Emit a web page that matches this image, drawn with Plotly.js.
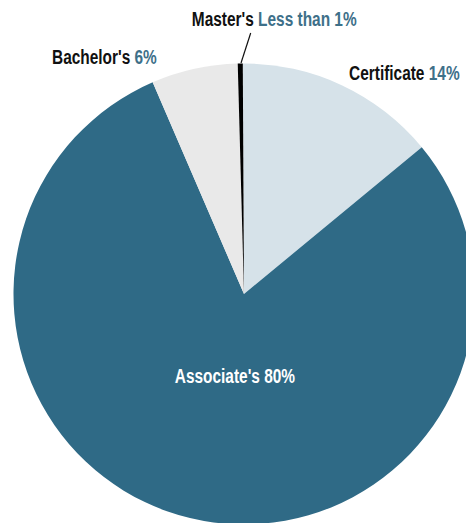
<!DOCTYPE html>
<html>
<head>
<meta charset="utf-8">
<script src="https://cdn.plot.ly/plotly-3.0.1.min.js"></script>
<style>
html, body { margin: 0; padding: 0; overflow: hidden; background: #fff; width: 466px; height: 523px; }
#chart { position: absolute; left: 0; top: 0; width: 488px; height: 588px; }
</style>
</head>
<body>
<div id="chart"></div>
<script>
// Data
var categories = ["Certificate", "Associate's", "Bachelor's", "Master's"];
var shares = [14.1, 79.5, 6.05, 0.35];
var shareLabels = ["14%", "80%", "6%", "Less than 1%"];
var sliceColors = ["#d6e2e9", "#2f6a86", "#e9e9e9", "#000000"];

var W = 488, H = 588;
var cx = 244, cy = 294, R = 230.5;
function px(x) { return x / W; }
function py(y) { return 1 - y / H; }

var FONT = '"Liberation Sans", Arial, sans-serif';
var BLUE = "#3e7089";
var NARROW = 0.735;

function lbl(i, dark) {
  var nameColor = dark ? "#ffffff" : "#111111";
  var valColor = dark ? "#ffffff" : BLUE;
  return '<span style="color:' + nameColor + '">' + categories[i] + '</span> ' +
         '<span style="color:' + valColor + '">' + shareLabels[i] + '</span>';
}

var trace = {
  type: "pie",
  labels: categories,
  values: shares,
  sort: false,
  direction: "clockwise",
  rotation: -0.3,
  marker: { colors: sliceColors, line: { width: 0 } },
  textinfo: "none",
  hoverinfo: "none",
  showlegend: false,
  domain: { x: [px(cx - R), px(cx + R)], y: [0, 1] }
};

var labelPos = [
  { x: 404, y: 72 },   // Certificate
  { x: 234.5, y: 375 },// Associate's
  { x: 104.5, y: 57 }, // Bachelor's
  { x: 274.5, y: 19 }  // Master's
];

var annotations = categories.map(function (c, i) {
  return {
    xref: "paper", yref: "paper",
    x: px(labelPos[i].x), y: py(labelPos[i].y),
    xanchor: "center", yanchor: "middle",
    text: "<b>" + lbl(i, i === 1) + "</b>",
    showarrow: false,
    font: { family: FONT, size: 21, color: "#111" }
  };
});

var layout = {
  width: W, height: H,
  margin: { l: 0, r: 0, t: 0, b: 0 },
  paper_bgcolor: "#ffffff",
  plot_bgcolor: "#ffffff",
  annotations: annotations,
  shapes: [{
    type: "line", xref: "paper", yref: "paper",
    x0: px(250.7), y0: py(33), x1: px(241), y1: py(63),
    line: { color: "#111", width: 1.2 }
  }]
};

function narrowLabels() {
  var texts = document.querySelectorAll("#chart .annotation-text");
  texts.forEach(function (t) {
    var b = t.getBBox();
    var c = b.x + b.width / 2;
    t.setAttribute("transform", "translate(" + c + ",0) scale(" + NARROW + ",1) translate(" + (-c) + ",0)");
  });
}

Plotly.newPlot("chart", [trace], layout, { staticPlot: true, displayModeBar: false }).then(narrowLabels);
</script>
</body>
</html>
